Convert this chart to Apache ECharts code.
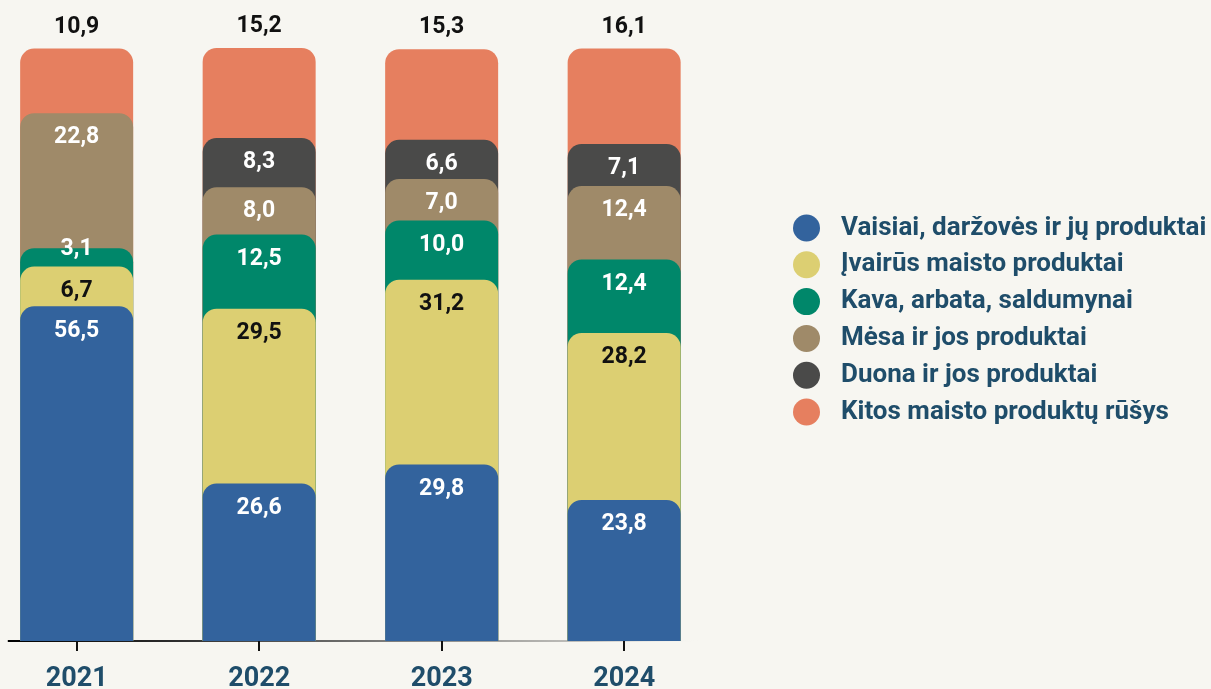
<!DOCTYPE html>
<html>
<head>
<meta charset="utf-8">
<script src="https://cdn.jsdelivr.net/npm/echarts@6/dist/echarts.min.js"></script>
<style>
html,body{margin:0;padding:0;background:#f7f6f1;overflow:hidden;}
#chart{position:absolute;left:-15px;top:0;width:1226px;height:689px;}
</style>
</head>
<body>
<div id="chart"></div>
<script>
const categories = ['2021', '2022', '2023', '2024'];
const seriesNames = [
  'Vaisiai, daržovės ir jų produktai',
  'Įvairūs maisto produktai',
  'Kava, arbata, saldumynai',
  'Mėsa ir jos produktai',
  'Duona ir jos produktai',
  'Kitos maisto produktų rūšys'
];
const vaisiai = [56.5, 26.6, 29.8, 23.8];
const ivairus = [6.7, 29.5, 31.2, 28.2];
const kava    = [3.1, 12.5, 10.0, 12.4];
const mesa    = [22.8, 8.0, 7.0, 12.4];
const duona   = [null, 8.3, 6.6, 7.1];
const kitos   = [10.9, 15.2, 15.3, 16.1];

const colors = ['#33639d', '#dccf72', '#00876a', '#9f8a69', '#4a4a49', '#e67f5f'];
const labelColors = ['#ffffff', '#111111', '#ffffff', '#ffffff', '#ffffff', '#111111'];
const values = [vaisiai, ivairus, kava, mesa, duona, kitos];

const FONT = 'Roboto';
const fmt = v => v.toFixed(1).replace('.', ',');

// cumulative tops so each segment is drawn as an overlapping rounded bar
const cum = values.map((arr, si) => arr.map((v, ci) => {
  if (v == null) return null;
  let s = 0;
  for (let k = 0; k <= si; k++) s += values[k][ci] || 0;
  return +s.toFixed(2);
}));
const maxTotal = Math.max(...cum[cum.length - 1]);

const series = [];
for (let si = values.length - 1; si >= 0; si--) {
  const isTop = si === values.length - 1;
  series.push({
    name: seriesNames[si],
    type: 'bar',
    barWidth: 113,
    barGap: '-100%',
    itemStyle: { color: colors[si], borderRadius: [14, 14, 0, 0] },
    data: cum[si].map((c, ci) => {
      const v = values[si][ci];
      if (c == null) return { value: null };
      const item = { value: c, raw: v };
      if (!isTop && v < 5) {
        item.label = { position: 'top', distance: -13 };
      }
      return item;
    }),
    label: {
      show: true,
      position: isTop ? 'top' : 'insideTop',
      distance: isTop ? 10 : 13,
      color: labelColors[si],
      fontFamily: FONT,
      fontWeight: 'bold',
      fontSize: 23,
      formatter: p => p.data.raw == null ? '' : fmt(p.data.raw)
    },
    emphasis: { disabled: true }
  });
}

const chart = echarts.init(document.getElementById('chart'), null, { renderer: 'canvas' });
chart.setOption({
  backgroundColor: '#f7f6f1',
  animation: false,
  grid: { left: 0.4, right: 495.6, top: 48, bottom: 48, outerBoundsMode: 'none', containLabel: false },
  xAxis: {
    type: 'category',
    data: categories,
    axisLine: {
      show: true,
      lineStyle: {
        width: 2,
        color: new echarts.graphic.LinearGradient(0, 0, 1, 0, [
          { offset: 0, color: 'rgba(247,246,241,0)' },
          { offset: 0.033, color: 'rgba(247,246,241,0)' },
          { offset: 0.034, color: '#000000' },
          { offset: 0.25, color: '#2a2a2a' },
          { offset: 0.6, color: '#8a8a88' },
          { offset: 0.82, color: '#c2c1bd' },
          { offset: 0.98, color: 'rgba(247,246,241,0)' },
          { offset: 1, color: 'rgba(247,246,241,0)' }
        ])
      }
    },
    axisTick: { show: true, alignWithLabel: true, length: 10, lineStyle: { color: '#111', width: 2 } },
    axisLabel: { margin: 25, color: '#1f4d6a', fontFamily: FONT, fontWeight: 'bold', fontSize: 27 }
  },
  yAxis: { type: 'value', show: false, min: 0, max: maxTotal, splitLine: { show: false } },
  legend: {
    orient: 'vertical',
    left: 808,
    top: 214.5,
    padding: 0,
    icon: 'circle',
    itemWidth: 27,
    itemHeight: 27,
    itemGap: 9.8,
    data: seriesNames,
    selectedMode: false,
    textStyle: { color: '#1f4d6a', fontFamily: FONT, fontWeight: 'bold', fontSize: 26, lineHeight: 27, padding: [0, 0, 0, 16] }
  },
  series: series
});
</script>
</body>
</html>
